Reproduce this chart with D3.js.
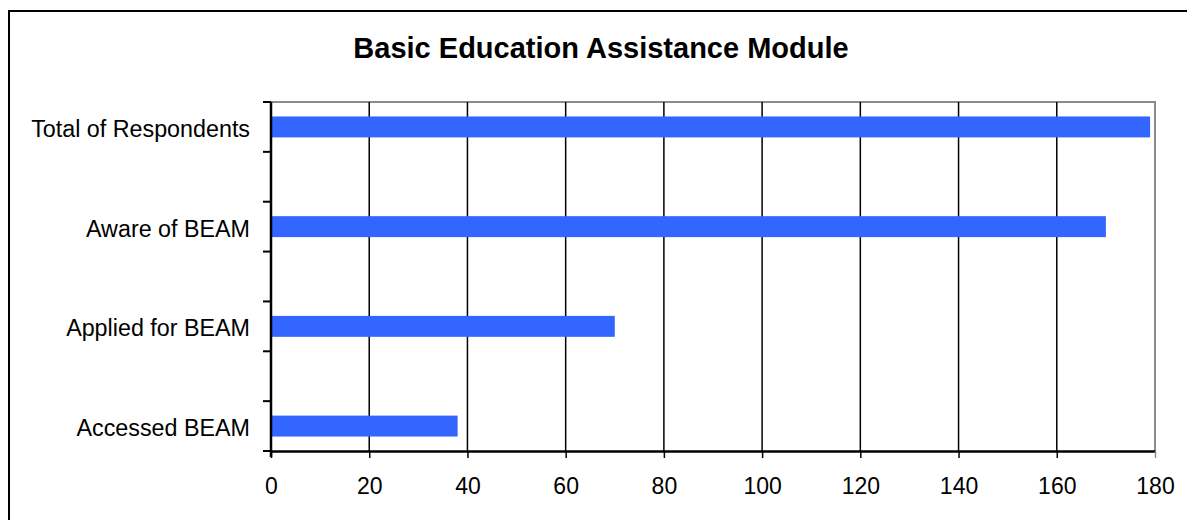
<!DOCTYPE html>
<html>
<head>
<meta charset="utf-8">
<script src="https://cdn.jsdelivr.net/npm/d3@7"></script>
<style>
  html, body { margin: 0; padding: 0; background: #fff; }
  svg text { font-family: "Liberation Sans", Arial, sans-serif; fill: #000; }
</style>
</head>
<body>
<svg id="chart" width="1187" height="520"></svg>
<script>
// Category slots: blank entries keep the spacing between the labelled bars
const categories = ["Total of Respondents", "", "Aware of BEAM", "", "Applied for BEAM", "", "Accessed BEAM"];
const values = [179, null, 170, null, 70, null, 38];
const xTicks = [0, 20, 40, 60, 80, 100, 120, 140, 160, 180];
const title = "Basic Education Assistance Module";

(function draw() {
  const svg = d3.select("#chart");
  const plotLeft = 271, plotRight = 1155, plotTop = 102, plotBottom = 451;

  // Outer frame
  svg.append("rect")
    .attr("x", 9).attr("y", 11)
    .attr("width", 1200).attr("height", 600)
    .attr("fill", "none").attr("stroke", "#000").attr("stroke-width", 2);

  svg.append("text")
    .attr("x", 601).attr("y", 58)
    .attr("text-anchor", "middle")
    .attr("font-size", 29).attr("font-weight", "bold")
    .text(title);

  const x = d3.scaleLinear().domain([0, 180]).range([plotLeft, plotRight]);
  const y = d3.scaleBand().domain(d3.range(categories.length)).range([plotTop, plotBottom])
    .paddingInner(0.58).paddingOuter(0.29);
  const yEdge = d3.scaleLinear().domain([0, categories.length]).range([plotTop, plotBottom]);

  // Plot border (top and right), gray
  svg.append("path")
    .attr("d", `M${plotLeft},${plotTop}H${plotRight}V${plotBottom}`)
    .attr("fill", "none").attr("stroke", "#8c8c8c").attr("stroke-width", 2);

  // Vertical gridlines
  svg.append("g").selectAll("line")
    .data(xTicks.filter(t => t > 0 && t < 180))
    .join("line")
    .attr("x1", d => x(d)).attr("x2", d => x(d))
    .attr("y1", plotTop).attr("y2", plotBottom)
    .attr("stroke", "#000").attr("stroke-width", 1.5);

  // Bars
  svg.append("g").selectAll("rect")
    .data(values.map((v, i) => ({ v, i })).filter(d => d.v != null))
    .join("rect")
    .attr("x", x(0))
    .attr("y", d => y(d.i))
    .attr("width", d => x(d.v) - x(0))
    .attr("height", y.bandwidth())
    .attr("fill", "#3366ff");

  // X axis
  const xAxis = svg.append("g").attr("transform", `translate(0,${plotBottom})`)
    .call(d3.axisBottom(x).tickValues(xTicks).tickSize(7).tickSizeOuter(0).tickPadding(20));
  xAxis.select(".domain").attr("stroke", "#000").attr("stroke-width", 2.5);
  xAxis.selectAll(".tick line").attr("stroke", "#000").attr("stroke-width", 1.5);
  xAxis.selectAll(".tick text").attr("font-size", 23)
    .attr("font-family", "Liberation Sans, Arial, sans-serif").attr("fill", "#000");
  xAxis.selectAll(".tick").filter(d => d === 180).select("line").attr("stroke", "#8c8c8c");

  // Y axis line with ticks at category edges
  svg.append("line")
    .attr("x1", plotLeft).attr("x2", plotLeft).attr("y1", plotTop).attr("y2", plotBottom + 6)
    .attr("stroke", "#000").attr("stroke-width", 2.5);
  svg.append("g").selectAll("line")
    .data(d3.range(categories.length + 1))
    .join("line")
    .attr("x1", plotLeft - 8).attr("x2", plotLeft)
    .attr("y1", d => yEdge(d)).attr("y2", d => yEdge(d))
    .attr("stroke", "#000").attr("stroke-width", 2);

  // Category labels
  svg.append("g").selectAll("text")
    .data(categories.map((c, i) => ({ c, i })).filter(d => d.c))
    .join("text")
    .attr("x", 250)
    .attr("y", d => y(d.i) + y.bandwidth() / 2 + 10)
    .attr("text-anchor", "end")
    .attr("font-size", 23.3)
    .text(d => d.c);
})();
</script>
</body>
</html>
